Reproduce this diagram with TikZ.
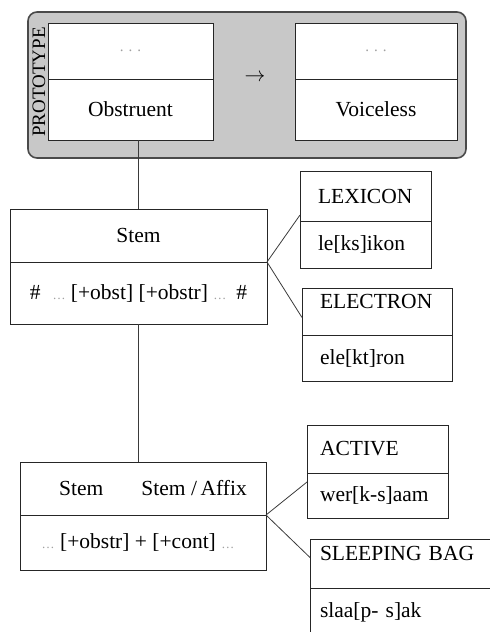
\documentclass[tikz,border=0pt]{standalone}
\usepackage{fontspec}
\setmainfont{Liberation Serif}
\usetikzlibrary{positioning}
\definecolor{protofill}{HTML}{C8C8C8}
\definecolor{protoedge}{HTML}{4A4A4A}
\definecolor{linegray}{HTML}{3A3A3A}
\definecolor{dotgray}{HTML}{A0A0A0}
\newcommand{\gdots}{\textcolor{dotgray}{\fontsize{13}{13}\selectfont\ldots}}
\newcommand{\sdots}{\textcolor{dotgray}{\fontsize{15}{15}\selectfont .\hspace{5pt}.\hspace{5pt}.}}

\begin{document}
\begin{tikzpicture}[x=1pt, y=-1pt,
  cell/.style={rectangle, draw=black!85, line width=0.9pt, fill=white, outer sep=0pt,
               inner sep=0pt, font=\fontsize{21.5}{24}\selectfont},
  entry/.style 2 args={cell, text width=#1, inner xsep=#2, align=left},
  proto/.style={rectangle, rounded corners=9pt, draw=protoedge, line width=1.6pt, fill=protofill},
  link/.style={draw=linegray, line width=0.8pt},
]
\useasboundingbox (0,0) rectangle (490,632);
\clip (0,0) rectangle (490,632);
\node[proto, minimum width=438, minimum height=146] (frame) at (247,85) {};
\node[rotate=90, inner sep=0pt, font=\fontsize{19}{20}\selectfont] (label) at (39,82) {PROTOTYPE};
\node[cell, minimum width=165, minimum height=56] (obstTop) at (130.5,51) {\sdots};
\node[cell, minimum width=165, minimum height=61, below=0pt of obstTop] (obstBot) {Obstruent};
\node[cell, minimum width=162, minimum height=56] (voiceTop) at (376,51) {\sdots};
\node[cell, minimum width=162, minimum height=61, below=0pt of voiceTop] (voiceBot) {Voiceless};
\node[font=\fontsize{21.5}{24}\selectfont, inner sep=0pt] (arrow) at (255,78) {$\rightarrow$};

\node[cell, minimum width=257, minimum height=53] (stemTop) at (138.5,235.5) {Stem};
\node[cell, minimum width=257, minimum height=62, below=0pt of stemTop] (stemBot)
  {\#\hspace{12pt}\gdots{} [+obst] [+obstr] \gdots{}\hspace{10pt}\#};
\node[cell, minimum width=246, minimum height=53] (morphTop) at (143,488.5)
  {\hspace*{20pt}Stem\hspace{38pt}Stem /\,Affix};
\node[cell, minimum width=246, minimum height=55, below=0pt of morphTop] (morphBot)
  {\gdots{} [+obstr] + [+cont] \gdots{}\hspace*{10pt}};

\node[entry={95}{18}, minimum height=50] (lexTop) at (365.5,196) {LEXICON};
\node[entry={95}{18}, minimum height=47, below=0pt of lexTop] (lexBot) {le[ks]ikon};
\node[entry={114}{18}, minimum height=47, text depth=20pt] (elecTop) at (377,311.5) {ELECTRON};
\node[entry={114}{18}, minimum height=46, below=0pt of elecTop] (elecBot) {ele[kt]ron};
\node[entry={115}{13}, minimum height=48] (actTop) at (377.5,449) {ACTIVE};
\node[entry={115}{13}, minimum height=45, below=0pt of actTop] (actBot) {wer[k-s]aam};
\node[entry={170}{10}, minimum height=49, text depth=20pt] (sleepTop) at (405,563.5) {SLEEPING BAG};
\node[entry={170}{10}, minimum height=48, below=0pt of sleepTop] (sleepBot) {slaa[p- s]ak};

\draw[link] (stemTop.north) -- (stemTop.north |- obstBot.south);
\draw[link] (stemBot.south) -- (stemBot.south |- morphTop.north);
\draw[link] (stemTop.south east) -- ([yshift=6pt]lexTop.south west);
\draw[link] (stemTop.south east) -- ([yshift=-6pt]elecTop.west);
\draw[link] (morphTop.south east) -- ([yshift=-9pt]actTop.south west);
\draw[link] (morphTop.south east) -- ([yshift=6pt]sleepTop.west);
\end{tikzpicture}
\end{document}
